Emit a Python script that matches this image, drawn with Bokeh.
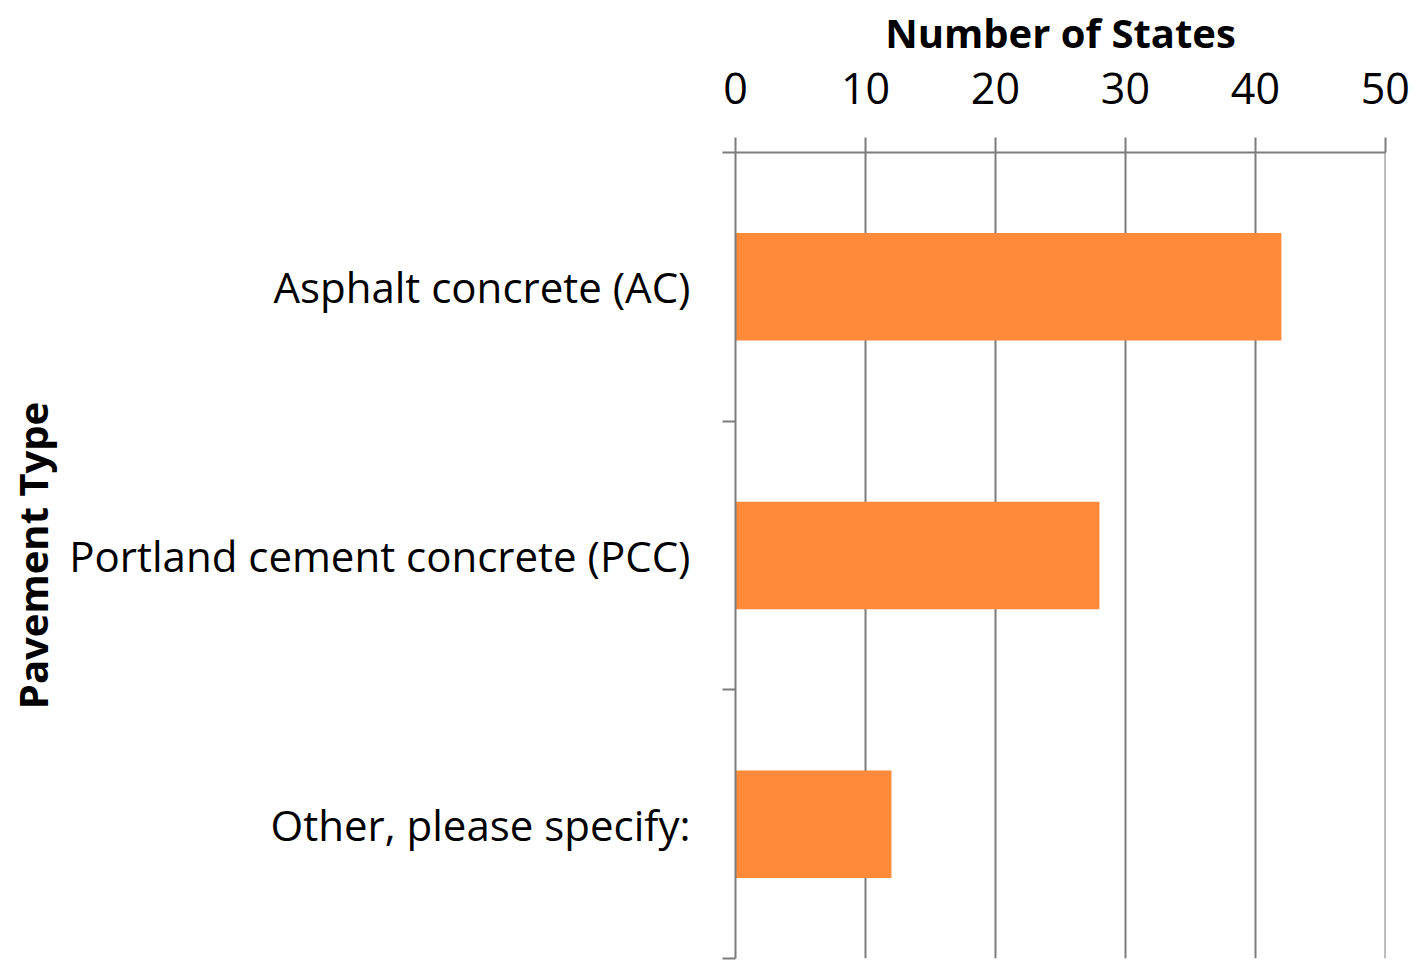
from bokeh.plotting import figure
from bokeh.models import Range1d, FixedTicker
from bokeh.embed import file_html
from bokeh.resources import INLINE

categories = ["Asphalt concrete (AC)", "Portland cement concrete (PCC)", "Other, please specify:"]
counts = [42, 28, 12]
x_ticks = [0, 10, 20, 30, 40, 50]
x_title = "Number of States"
y_title = "Pavement Type"

n = len(categories)
ypos = [n - i - 0.5 for i in range(n)]
bounds = [float(i) for i in range(n + 1)]

GRAY = "#7C7C7C"
BAR = "#FF8A3A"
FONT = "Open Sans"

p = figure(output_backend="svg", toolbar_location=None,
           x_range=Range1d(0, 50.01), y_range=Range1d(0, n),
           x_axis_location="above",
           frame_width=650, frame_height=806,
           min_border_left=735, min_border_right=35,
           min_border_top=152, min_border_bottom=3)
p.outline_line_color = None
p.background_fill_color = "white"
p.border_fill_color = "white"

p.hbar(y=ypos, right=counts, left=0, height=0.4, fill_color=BAR, line_color=None)

xa = p.xaxis[0]
xa.ticker = FixedTicker(ticks=x_ticks)
xa.axis_line_color = GRAY
xa.axis_line_width = 2
xa.major_tick_line_color = GRAY
xa.major_tick_line_width = 2
xa.major_tick_out = 15
xa.major_tick_in = 0
xa.minor_tick_line_color = None
xa.major_label_text_font = FONT
xa.major_label_text_font_size = "43px"
xa.major_label_text_color = "black"
xa.major_label_standoff = 34
xa.axis_label = x_title
xa.axis_label_text_font = FONT
xa.axis_label_text_font_style = "bold"
xa.axis_label_text_font_size = "40px"
xa.axis_label_text_color = "black"
xa.axis_label_standoff = 10

ya = p.yaxis[0]
ya.ticker = FixedTicker(ticks=ypos, minor_ticks=bounds)
ya.major_label_overrides = {ypos[i]: categories[i] for i in range(n)}
ya.axis_line_color = GRAY
ya.axis_line_width = 2
ya.major_tick_line_color = None
ya.major_tick_out = 0
ya.major_tick_in = 0
ya.minor_tick_line_color = GRAY
ya.minor_tick_line_width = 2
ya.minor_tick_out = 13
ya.minor_tick_in = 0
ya.major_label_text_font = FONT
ya.major_label_text_font_size = "42px"
ya.major_label_text_color = "black"
ya.major_label_standoff = 32
ya.axis_label = y_title
ya.axis_label_text_font = FONT
ya.axis_label_text_font_style = "bold"
ya.axis_label_text_font_size = "40px"
ya.axis_label_text_color = "black"
ya.axis_label_standoff = 6

p.xgrid.grid_line_color = GRAY
p.xgrid.grid_line_width = 2
p.ygrid.grid_line_color = None

open("out.html", "w").write(file_html(p, INLINE))
